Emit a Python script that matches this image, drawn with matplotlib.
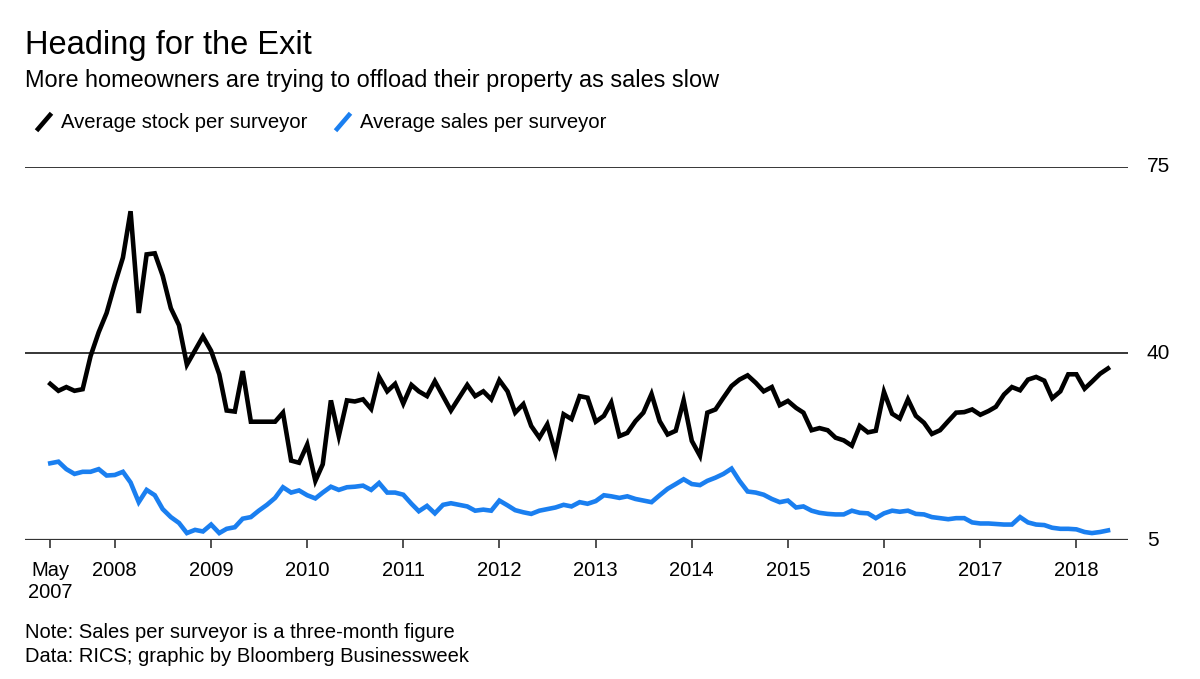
import pandas as pd
import matplotlib
matplotlib.use("Agg")
import matplotlib.pyplot as plt
from matplotlib.lines import Line2D

plt.rcParams['font.family'] = ['Liberation Sans', 'DejaVu Sans']

# monthly data, May 2007 - May 2018
months = pd.date_range("2007-05-01", periods=133, freq="MS")

stock = [34.3, 33.0, 33.7, 33.0, 33.3, 39.5, 44.0, 47.6, 53.0, 58.0,
         66.7, 47.6, 58.6, 58.8, 54.6, 48.5, 45.3, 37.9, 40.6, 43.2,
         40.5, 36.1, 29.3, 29.1, 36.7, 27.2, 27.2, 27.2, 27.2, 28.9,
         19.9, 19.5, 22.9, 16.1, 19.2, 31.2, 24.5, 31.2, 31.0, 31.4,
         29.6, 35.6, 32.9, 34.3, 30.6, 34.1, 32.9, 32.0, 34.8, 32.0,
         29.3, 31.7, 34.1, 32.0, 32.9, 31.4, 35.0, 32.9, 28.9, 30.5,
         26.4, 24.2, 26.7, 21.4, 28.6, 27.7, 32.0, 31.7, 27.2, 28.3,
         30.8, 24.5, 25.1, 27.3, 28.9, 32.4, 27.3, 24.8, 25.5, 31.2,
         23.6, 20.8, 28.9, 29.5, 31.7, 33.9, 35.1, 35.9, 34.5, 32.9,
         33.7, 30.3, 31.1, 29.8, 28.9, 25.6, 26.0, 25.6, 24.2, 23.7,
         22.7, 26.4, 25.2, 25.5, 32.8, 28.7, 27.8, 31.4, 28.3, 27.0,
         24.9, 25.6, 27.3, 28.9, 29.0, 29.5, 28.5, 29.2, 30.0, 32.3,
         33.7, 33.1, 35.1, 35.6, 34.9, 31.6, 32.9, 36.1, 36.1, 33.4,
         34.7, 36.2, 37.2]

sales = [19.4, 19.7, 18.3, 17.4, 17.8, 17.8, 18.3, 17.1, 17.2, 17.8,
         15.8, 12.1, 14.4, 13.4, 10.8, 9.3, 8.2, 6.3, 6.9, 6.6,
         7.9, 6.3, 7.1, 7.4, 9.0, 9.3, 10.5, 11.6, 12.9, 14.9,
         13.9, 14.3, 13.4, 12.8, 13.9, 15.0, 14.4, 14.9, 15.0, 15.2,
         14.4, 15.7, 13.9, 13.9, 13.5, 11.8, 10.4, 11.4, 10.0, 11.6,
         11.9, 11.6, 11.3, 10.5, 10.7, 10.5, 12.4, 11.5, 10.6, 10.2,
         9.9, 10.5, 10.8, 11.1, 11.6, 11.3, 12.1, 11.8, 12.3, 13.4,
         13.2, 12.9, 13.2, 12.7, 12.4, 12.1, 13.4, 14.6, 15.5, 16.4,
         15.5, 15.3, 16.1, 16.7, 17.4, 18.4, 16.1, 14.1, 13.9, 13.5,
         12.7, 12.1, 12.4, 11.1, 11.3, 10.5, 10.1, 9.9, 9.8, 9.8,
         10.5, 10.1, 10.0, 9.1, 10.0, 10.5, 10.3, 10.5, 9.9, 9.8,
         9.3, 9.1, 8.9, 9.1, 9.1, 8.3, 8.1, 8.1, 8.0, 7.9,
         7.9, 9.3, 8.3, 7.9, 7.8, 7.3, 7.1, 7.1, 7.0, 6.5,
         6.3, 6.5, 6.8]

tick_dates = pd.to_datetime(["2007-05-01"] + [f"{y}-01-01" for y in range(2008, 2019)])
tick_labels = ["May\n2007"] + [str(y) for y in range(2008, 2019)]
y_levels = [5, 40, 75]

BLACK = "#000000"
BLUE = "#1a7ff0"

fig = plt.figure(figsize=(12, 6.79), dpi=100)
ax = fig.add_axes([25 / 1200, 1 - 540 / 679, (1128 - 25) / 1200, (540 - 167) / 679])

for lv in y_levels[1:]:
    ax.axhline(lv, color="black", lw=1.1, zorder=1)
ax.axhline(y_levels[0], color="#333333", lw=1.6, zorder=1)

ax.plot(months, sales, color=BLUE, lw=3.3, solid_joinstyle="miter", zorder=3)
ax.plot(months, stock, color=BLACK, lw=3.3, solid_joinstyle="miter", zorder=4)

ax.set_ylim(5, 75)
ax.set_xlim(pd.Timestamp("2007-01-25"), pd.Timestamp("2018-07-16"))
for s in ax.spines.values():
    s.set_visible(False)
ax.set_yticks([])
ax.set_xticks(tick_dates)
ax.set_xticklabels(tick_labels, fontsize=14.5)
ax.tick_params(axis="x", length=6, width=1.2, color="#333333", pad=9)

# right-hand value labels
for lv in y_levels:
    ax.text(1.017, (lv - 5) / 70, str(lv), transform=ax.transAxes,
            ha="left", va="center", fontsize=15)

# titles
fig.text(25 / 1200, 1 - 54 / 679, "Heading for the Exit", fontsize=23.5, va="baseline")
fig.text(25 / 1200, 1 - 87 / 679,
         "More homeowners are trying to offload their property as sales slow",
         fontsize=16.9, va="baseline")

# legend
for x0, col, label in [(38, BLACK, "Average stock per surveyor"),
                       (337, BLUE, "Average sales per surveyor")]:
    fig.add_artist(Line2D([x0 / 1200, (x0 + 12) / 1200],
                          [1 - 129 / 679, 1 - 115 / 679],
                          color=col, lw=3.3, transform=fig.transFigure))
    fig.text((x0 + 23) / 1200, 1 - 128 / 679, label, fontsize=14.6, va="baseline")

# footnotes
fig.text(25 / 1200, 1 - 638 / 679, "Note: Sales per surveyor is a three-month figure",
         fontsize=14.5, va="baseline")
fig.text(25 / 1200, 1 - 662 / 679, "Data: RICS; graphic by Bloomberg Businessweek",
         fontsize=14.5, va="baseline")

fig.savefig("out.png", dpi=100)
